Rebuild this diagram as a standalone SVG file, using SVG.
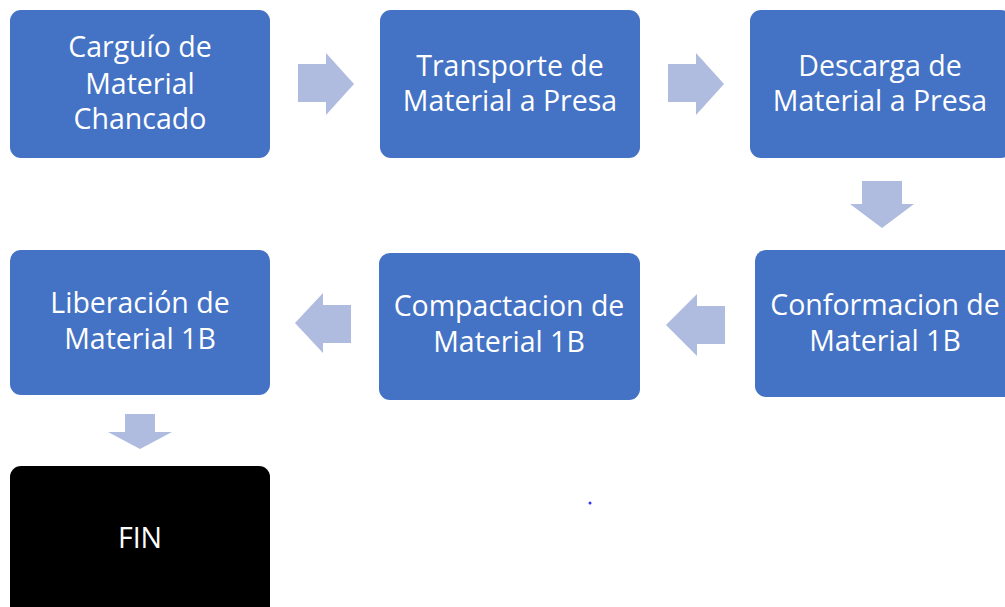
<svg xmlns="http://www.w3.org/2000/svg" width="1005" height="607" viewBox="0 0 1005 607">
<style>
.box{fill:#4472C4}
.fin{fill:#000000}
.arrow{fill:#AFBCDF}
text{font-family:"Open Sans","Liberation Sans",sans-serif;font-size:28.5px;fill:#ffffff;text-anchor:middle}
</style>
<rect width="1005" height="607" fill="#ffffff"/>
<g id="connectors">
<polygon class="arrow" points="298,64 326,64 326,53 354,84 326,115 326,102 298,102"/>
<polygon class="arrow" points="668,64 696,64 696,53 724,84 696,115 696,102 668,102"/>
<polygon class="arrow" points="862,181 902,181 902,204 914,204 882,228 850,204 862,204"/>
<polygon class="arrow" points="725,306 697,306 697,294 666,325 697,356 697,344 725,344"/>
<polygon class="arrow" points="351,305 323,305 323,293 295,323 323,353 323,343 351,343"/>
<polygon class="arrow" points="125,414 155,414 155,432 172,432 140,449 108,432 125,432"/>
</g>
<g id="n1"><rect class="box" x="10" y="10" width="260" height="148" rx="11"/>
<text x="140" y="57">Carguío de</text><text x="140" y="94">Material</text><text x="140" y="129">Chancado</text></g>
<g id="n2"><rect class="box" x="380" y="10" width="260" height="148" rx="11"/>
<text x="510" y="76">Transporte de</text><text x="510" y="111">Material a Presa</text></g>
<g id="n3"><rect class="box" x="750" y="10" width="262" height="148" rx="11"/>
<text x="880" y="76">Descarga de</text><text x="880" y="111">Material a Presa</text></g>
<g id="n4"><rect class="box" x="755" y="250" width="262" height="147" rx="11"/>
<text x="885" y="315">Conformacion de</text><text x="885" y="351">Material 1B</text></g>
<g id="n5"><rect class="box" x="379" y="253" width="261" height="147" rx="11"/>
<text x="509" y="316">Compactacion de</text><text x="509" y="352">Material 1B</text></g>
<g id="n6"><rect class="box" x="10" y="250" width="260" height="145" rx="11"/>
<text x="140" y="313">Liberación de</text><text x="140" y="349">Material 1B</text></g>
<g id="n7"><rect class="fin" x="10" y="466" width="260" height="152" rx="11"/>
<text x="140" y="548">FIN</text></g>
<circle cx="590" cy="503" r="1.5" fill="#3333ff"/>
</svg>
